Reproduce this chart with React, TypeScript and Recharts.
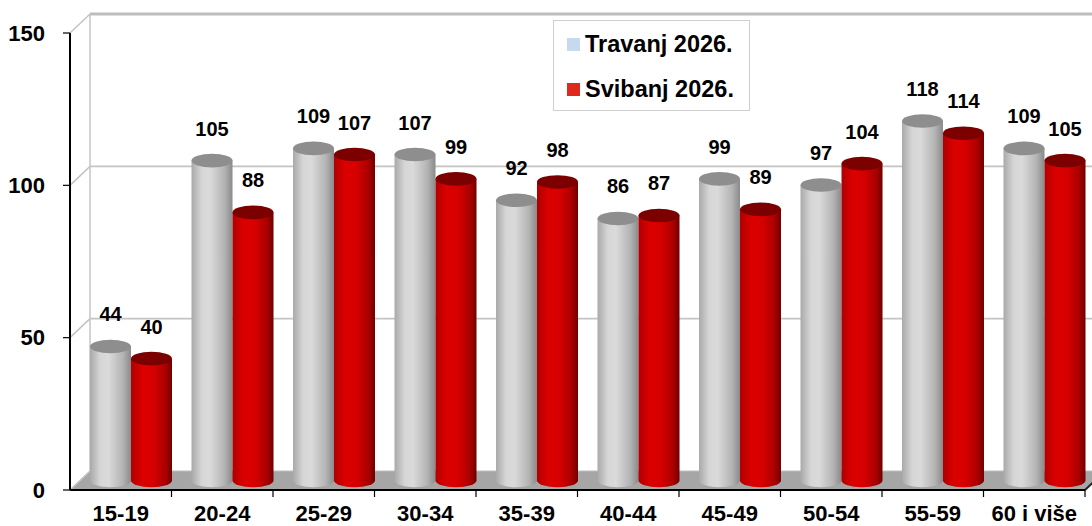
import React from "react";
import { BarChart, Bar, XAxis, YAxis, CartesianGrid, Legend, LabelList } from "recharts";

const categories = ["15-19", "20-24", "25-29", "30-34", "35-39", "40-44", "45-49", "50-54", "55-59", "60 i više"];
const travanj = [44, 105, 109, 107, 92, 86, 99, 97, 118, 109];
const svibanj = [40, 88, 107, 99, 98, 87, 89, 104, 114, 105];
const yTicks = [0, 50, 100, 150];
const seriesNames = ["Travanj 2026.", "Svibanj 2026."];

const data = categories.map((c, i) => ({ cat: c, tra: travanj[i], svi: svibanj[i] }));

const FONT = "'Liberation Sans', Arial, sans-serif";
const DX = 10;
const DY = -9.5;
const BX = 20;
const BY = -19;
const RY = 6.8;

const makeCylinder = (bodyId: string, topColor: string) => (props: any) => {
  const { x, y, width, height } = props;
  if (x == null || y == null || width == null || height == null) return <g />;
  const left = x + DX;
  const right = left + width;
  const top = y + DY;
  const bottom = y + height + DY;
  const rx = width / 2;
  const d = `M ${left} ${top} L ${left} ${bottom} A ${rx} ${RY} 0 0 0 ${right} ${bottom} L ${right} ${top} Z`;
  return (
    <g>
      <path d={d} fill={`url(#${bodyId})`} />
      <ellipse cx={left + rx} cy={top} rx={rx} ry={RY} fill={topColor} />
    </g>
  );
};

const GrayCyl = makeCylinder("grayBody", "#8e8e8e");
const RedCyl = makeCylinder("redBody", "#7c0000");

const renderLabel = (props: any) => {
  const { x, y, width, value } = props;
  return (
    <text
      x={x + width / 2 + DX}
      y={y + DY - 25}
      textAnchor="middle"
      fontFamily={FONT}
      fontWeight="bold"
      fontSize={20}
      fill="#000"
    >
      {value}
    </text>
  );
};

const gridLine = (props: any) => {
  const { x1, y1, x2, index } = props;
  const gy = props.y;
  const gh = props.height;
  const isBottom = gh != null && Math.abs(y1 - (gy + gh)) < 1;
  const isTop = Math.abs(y1 - gy) < 1;
  if (isBottom) {
    return (
      <g key={`g-${index}`}>
        <polygon
          points={`${x1},${y1} ${x2},${y1} ${x2 + BX},${y1 + BY} ${x1 + BX},${y1 + BY}`}
          fill="#a6a6a6"
          stroke="#bdbdbd"
          strokeWidth={1}
        />
        <line x1={x2} y1={y1} x2={x2 + BX} y2={y1 + BY} stroke="#222" strokeWidth={2} />
        <line x1={x1} y1={y1} x2={x1 + BX} y2={y1 + BY} stroke="#c4c4c4" strokeWidth={1.5} />
      </g>
    );
  }
  return (
    <g key={`g-${index}`}>
      {isTop && (
        <line
          x1={x1 + BX}
          y1={y1 + BY}
          x2={x1 + BX}
          y2={gy + gh + BY}
          stroke="#c4c4c4"
          strokeWidth={1.5}
        />
      )}
      <line
        x1={x1 + BX}
        y1={y1 + BY}
        x2={x2 + BX + 20}
        y2={y1 + BY}
        stroke={isTop ? "#bdbdbd" : "#c4c4c4"}
        strokeWidth={isTop ? 3 : 1.8}
      />
      <line x1={x1} y1={y1} x2={x1 + BX} y2={y1 + BY} stroke="#c4c4c4" strokeWidth={1.5} />
    </g>
  );
};

const XTick = (props: any) => {
  const { x, y, payload, width, visibleTicksCount } = props;
  const half = width && visibleTicksCount ? width / visibleTicksCount / 2 : 50.75;
  return (
    <g>
      <line x1={x + half} y1={y} x2={x + half} y2={y + 7} stroke="#000" strokeWidth={1.2} />
      <text
        x={x}
        y={y + 31}
        textAnchor="middle"
        fontFamily={FONT}
        fontWeight="bold"
        fontSize={22}
        fill="#000"
      >
        {payload.value}
      </text>
    </g>
  );
};

const legendColors = ["#c5d9f1", "#dd2a1b"];

const LegendBox = () => (
  <div
    style={{
      width: 195,
      height: 89,
      border: "1px solid #cfcfcf",
      background: "#fff",
      boxSizing: "content-box",
      position: "relative",
      fontFamily: FONT,
    }}
  >
    {seriesNames.map((n, i) => (
      <div
        key={n}
        style={{
          position: "absolute",
          left: 13,
          top: 10 + i * 45,
          height: 26,
          display: "flex",
          alignItems: "center",
          whiteSpace: "nowrap",
        }}
      >
        <span style={{ display: "inline-block", width: 13, height: 13, background: legendColors[i], marginRight: 5 }} />
        <span style={{ fontWeight: "bold", fontSize: 23.5, color: "#000", lineHeight: "26px" }}>{n}</span>
      </div>
    ))}
  </div>
);

export default function App() {
  return (
    <div style={{ position: "absolute", left: 0, top: 0, width: 1092, height: 526, background: "#fff", overflow: "hidden" }}>
      <svg width={0} height={0} style={{ position: "absolute" }}>
        <defs>
          <linearGradient id="grayBody" x1="0" y1="0" x2="1" y2="0">
            <stop offset="0%" stopColor="#a9a9a9" />
            <stop offset="25%" stopColor="#d6d6d6" />
            <stop offset="45%" stopColor="#dadada" />
            <stop offset="80%" stopColor="#b4b4b4" />
            <stop offset="100%" stopColor="#8a8a8a" />
          </linearGradient>
          <linearGradient id="redBody" x1="0" y1="0" x2="1" y2="0">
            <stop offset="0%" stopColor="#b00000" />
            <stop offset="28%" stopColor="#dc0000" />
            <stop offset="55%" stopColor="#d60000" />
            <stop offset="85%" stopColor="#a80000" />
            <stop offset="100%" stopColor="#700000" />
          </linearGradient>
        </defs>
      </svg>
      <BarChart
        width={1092}
        height={526}
        data={data}
        margin={{ top: 33, right: 7, left: 0, bottom: 0 }}
        barGap={0}
        barSize={41}
      >
        <CartesianGrid vertical={false} horizontal={gridLine} />
        <XAxis
          dataKey="cat"
          height={36}
          tickLine={false}
          tickSize={0}
          tickMargin={0}
          interval={0}
          axisLine={{ stroke: "#000", strokeWidth: 2 }}
          tick={<XTick />}
        />
        <YAxis
          width={70}
          domain={[0, 150]}
          ticks={yTicks}
          interval={0}
          tickSize={7}
          tickMargin={18}
          axisLine={{ stroke: "#000", strokeWidth: 2 }}
          tickLine={{ stroke: "#000", strokeWidth: 1.2 }}
          tick={{ fill: "#000", fontSize: 22, fontWeight: "bold", fontFamily: FONT }}
        />
        <Legend
          content={<LegendBox />}
          wrapperStyle={{ position: "absolute", left: 553, top: 20, width: 197, height: 0, overflow: "visible" }}
        />
        <Bar dataKey="tra" name={seriesNames[0]} fill="#c0c0c0" shape={GrayCyl} isAnimationActive={false}>
          <LabelList dataKey="tra" content={renderLabel} />
        </Bar>
        <Bar dataKey="svi" name={seriesNames[1]} fill="#d00000" shape={RedCyl} isAnimationActive={false}>
          <LabelList dataKey="svi" content={renderLabel} />
        </Bar>
      </BarChart>
    </div>
  );
}
